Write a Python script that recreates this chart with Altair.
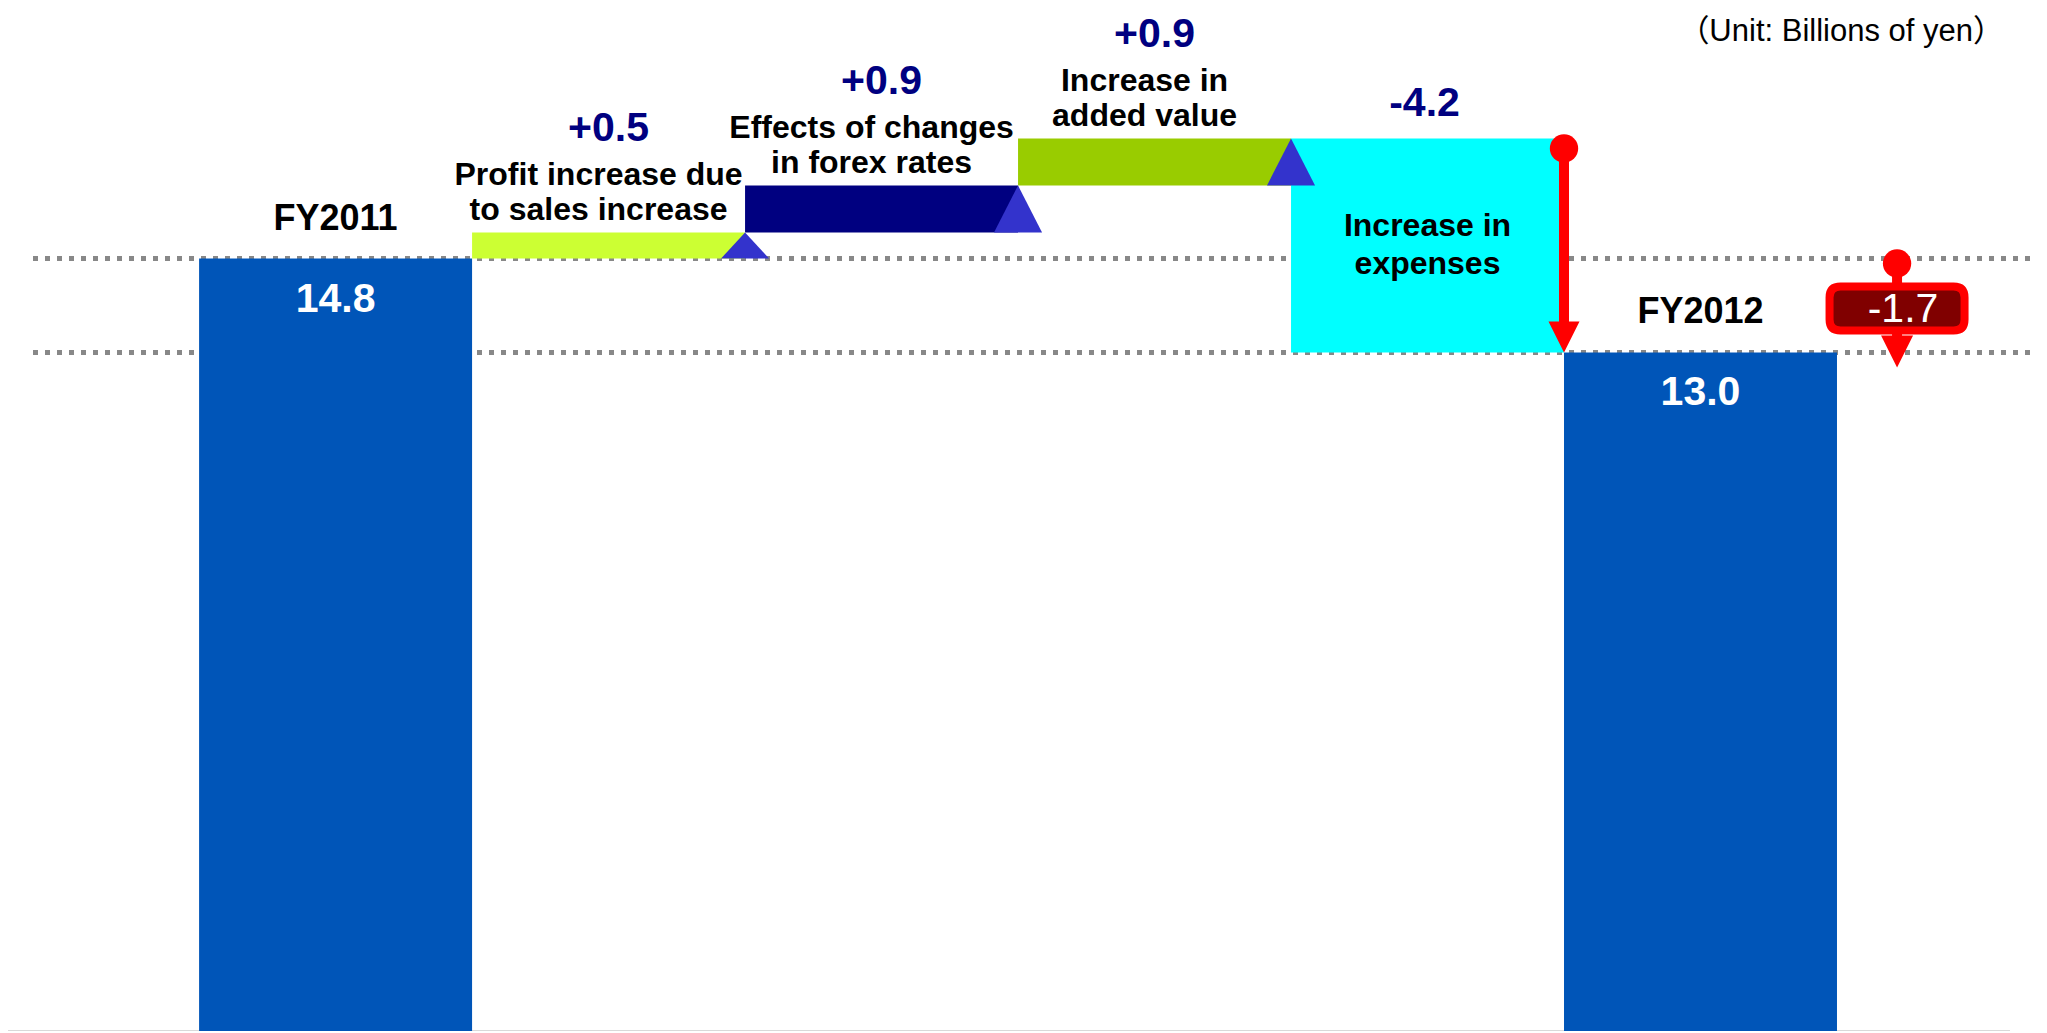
import altair as alt
import pandas as pd

# ---------------- data ----------------
categories = [
    "FY2011",
    "Profit increase due\nto sales increase",
    "Effects of changes\nin forex rates",
    "Increase in\nadded value",
    "Increase in\nexpenses",
    "FY2012",
]
values = [14.8, 0.5, 0.9, 0.9, -4.2, 13.0]
kinds = ["total", "step", "step", "step", "step", "total"]
value_labels = ["14.8", "+0.5", "+0.9", "+0.9", "-4.2", "13.0"]
change_value = -1.7
change_label = "-1.7"
unit_label = "（Unit: Billions of yen）"

# ---------------- style ----------------
bar_colors = ["#0055B8", "#CCFF33", "#000080", "#99CC00", "#00FFFF", "#0055B8"]
FONT = "Liberation Sans, Arial, sans-serif"
NAVY = "#000080"
RED = "#FF0000"

W, H = 2031, 1023
xs = alt.Scale(domain=[-1.2, 6.24], nice=False, zero=False)
ys = alt.Scale(domain=[0, 19.6], nice=False, zero=False)

# ---------------- waterfall table ----------------
rows = []
cum = 0.0
n = len(values)
for i, (c, v, k, lab) in enumerate(zip(categories, values, kinds, value_labels)):
    if k == "total":
        start, end = 0.0, v
        cum = v
    else:
        start = cum
        end = cum + v
        if i + 1 < n and kinds[i + 1] == "total":
            end = values[i + 1]  # rounding residual closes on the next total
        cum = end
    parts = c.split("\n")
    rows.append(dict(
        i=i, x0=i - 0.5, x1=i + 0.5, xr=i + 0.5,
        start=start, end=end, top=max(start, end), bottom=min(start, end),
        mid=(start + end) / 2, kind=k, v=v, label=lab,
        l1=parts[0], l2=parts[1] if len(parts) > 1 else "",
        color=bar_colors[i], cat=c,
    ))
df = pd.DataFrame(rows)
totals = df[df.kind == "total"]
ups = df[(df.kind == "step") & (df.v > 0)]
downs = df[(df.kind == "step") & (df.v < 0)]

# triangles on the rising steps (apex at bar top, base on bar bottom)
hw = 0.088
tri_rows = []
for _, r in ups.iterrows():
    for dx, yy in [(-hw, r.bottom), (0, r.top), (hw, r.bottom)]:
        tri_rows.append(dict(step=r.i, x=r.xr + dx, y=yy, y2=r.bottom))
tri = pd.DataFrame(tri_rows)

# overall change annotation
last_total = totals.iloc[-1]
first_total = totals.iloc[0]
chg = pd.DataFrame([dict(
    x=last_total.i + 0.72, a=first_total.v, b=last_total.v,
    mid=(first_total.v + last_total.v) / 2, label=change_label, v=change_value)])

levels = pd.DataFrame({"y": list(totals.v)})

# ---------------- layers ----------------
X = lambda f: alt.X(f, scale=xs, axis=None)
Y = lambda f: alt.Y(f, scale=ys, axis=None)

dotted = alt.Chart(levels).mark_rule(
    color="#888888", strokeWidth=5, strokeDash=[5, 7]
).encode(y=Y("y:Q"), x=alt.value(25), x2=alt.value(2022))

base_line = alt.Chart(pd.DataFrame({"y": [0]})).mark_rule(
    color="#d9d9d9", strokeWidth=2
).encode(y=Y("y:Q"), x=alt.value(0), x2=alt.value(2002))

bars = alt.Chart(df).mark_bar(strokeWidth=0).encode(
    x=X("x0:Q"), x2="x1:Q", y=Y("bottom:Q"), y2="top:Q",
    color=alt.Color("cat:N", scale=alt.Scale(domain=categories, range=bar_colors), legend=None),
)

triangles = alt.Chart(tri).mark_area(color="#3333CC", opacity=1).encode(
    x=X("x:Q"), y=Y("y:Q"), y2="y2:Q", detail="step:N"
)

# red arrow inside the expenses box
drop_rule = alt.Chart(downs).mark_rule(color=RED, strokeWidth=10, yOffset=10, y2Offset=-25).encode(
    x=X("xr:Q"), y=Y("top:Q"), y2="bottom:Q")
drop_dot = alt.Chart(downs).mark_point(filled=True, color=RED, size=804, opacity=1, yOffset=10).encode(
    x=X("xr:Q"), y=Y("top:Q"))
drop_head = alt.Chart(downs).mark_point(
    shape="M-1,-2L1,-2L0,0Z", filled=True, color=RED, size=961, opacity=1, strokeWidth=0
).encode(x=X("xr:Q"), y=Y("bottom:Q"))

# change annotation (-1.7)
chg_rule = alt.Chart(chg).mark_rule(color=RED, strokeWidth=10, yOffset=5, y2Offset=-10).encode(
    x=X("x:Q"), y=Y("a:Q"), y2="b:Q")
chg_dot = alt.Chart(chg).mark_point(filled=True, color=RED, size=804, opacity=1, yOffset=5).encode(
    x=X("x:Q"), y=Y("a:Q"))
chg_head = alt.Chart(chg).mark_point(
    shape="M-1,-2L1,-2L0,0Z", filled=True, color=RED, size=1024, opacity=1, strokeWidth=0, yOffset=15
).encode(x=X("x:Q"), y=Y("b:Q"))
rr = ("M-0.837,-0.326L0.837,-0.326Q1,-0.326 1,-0.163L1,0.163Q1,0.326 0.837,0.326"
      "L-0.837,0.326Q-1,0.326 -1,0.163L-1,-0.163Q-1,-0.326 -0.837,-0.326Z")
chg_box = alt.Chart(chg).mark_point(
    shape=rr, filled=True, fill="#800000", stroke=RED, strokeWidth=8, size=18225, opacity=1, yOffset=3
).encode(x=X("x:Q"), y=Y("mid:Q"))
chg_text = alt.Chart(chg).mark_text(
    font=FONT, fontSize=41, color="white", baseline="middle", dx=6, dy=4
).encode(x=X("x:Q"), y=Y("mid:Q"), text="label:N")

# texts
tot_name = alt.Chart(totals).mark_text(
    font=FONT, fontSize=36, fontWeight="bold", color="black", baseline="middle", dy=-40
).encode(x=X("i:Q"), y=Y("top:Q"), text="l1:N")
tot_val = alt.Chart(totals).mark_text(
    font=FONT, fontSize=41, fontWeight="bold", color="white", baseline="middle", dy=41
).encode(x=X("i:Q"), y=Y("top:Q"), text="label:N")

up_val = alt.Chart(ups).mark_text(
    font=FONT, fontSize=41, fontWeight="bold", color=NAVY, baseline="middle", dy=-103
).encode(x=X("i:Q"), y=Y("top:Q"), text="label:N")
up_l1 = alt.Chart(ups).mark_text(
    font=FONT, fontSize=32, fontWeight="bold", color="black", baseline="middle", dy=-57, dx=-10
).encode(x=X("i:Q"), y=Y("top:Q"), text="l1:N")
up_l2 = alt.Chart(ups).mark_text(
    font=FONT, fontSize=32, fontWeight="bold", color="black", baseline="middle", dy=-22, dx=-10
).encode(x=X("i:Q"), y=Y("top:Q"), text="l2:N")

down_val = alt.Chart(downs).mark_text(
    font=FONT, fontSize=41, fontWeight="bold", color=NAVY, baseline="middle", dy=-34, dx=-3
).encode(x=X("i:Q"), y=Y("top:Q"), text="label:N")
down_l1 = alt.Chart(downs).mark_text(
    font=FONT, fontSize=32, fontWeight="bold", color="black", baseline="middle", dy=-19
).encode(x=X("i:Q"), y=Y("mid:Q"), text="l1:N")
down_l2 = alt.Chart(downs).mark_text(
    font=FONT, fontSize=32, fontWeight="bold", color="black", baseline="middle", dy=19
).encode(x=X("i:Q"), y=Y("mid:Q"), text="l2:N")

unit = alt.Chart(pd.DataFrame({"t": [unit_label]})).mark_text(
    font="Liberation Sans, 'Noto Sans CJK JP', sans-serif", fontSize=31, color="black",
    align="right", baseline="middle"
).encode(text="t:N", x=alt.value(1996), y=alt.value(24))

chart = alt.layer(
    dotted, base_line, bars, triangles,
    drop_rule, drop_dot, drop_head,
    chg_rule, chg_dot, chg_head, chg_box, chg_text,
    tot_name, tot_val, up_val, up_l1, up_l2, down_val, down_l1, down_l2, unit,
).properties(
    width=W, height=H, padding=0,
    autosize=alt.AutoSizeParams(type="none"),
).configure_view(stroke=None)

chart.save("out.html", embed_options={"renderer": "svg", "actions": False})
